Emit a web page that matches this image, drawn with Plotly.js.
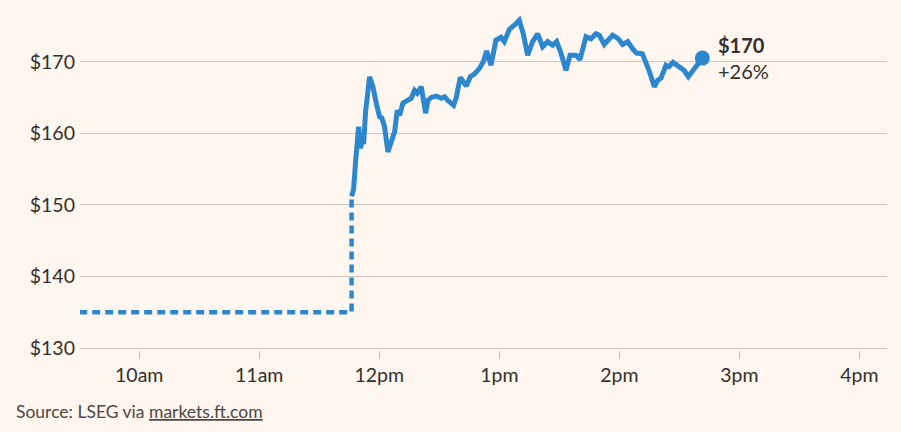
<!DOCTYPE html>
<html>
<head>
<meta charset="utf-8">
<script src="https://cdn.plot.ly/plotly-3.0.1.min.js"></script>
<style>
html,body{margin:0;padding:0;background:#FEF6EF;}
#chart{width:901px;height:432px;}
</style>
</head>
<body>
<div id="chart"></div>
<script>
// Previous close (dotted) series
const prevTimes = ["09:30:00", "11:46:10", "11:46:10"];
const prevPrices = [135, 135, 151.2];

// Intraday trading series
const times = [
  "11:46:10","11:47:10","11:48:10","11:49:40","11:50:40","11:51:20","11:52:10","11:53:10","11:55:10","11:56:50",
  "11:58:30","12:00:10","12:01:20","12:02:40","12:04:20","12:06:00","12:07:40","12:09:00","12:10:10","12:11:50",
  "12:14:20","12:16:00","12:17:40","12:19:00","12:21:00","12:23:10","12:24:20","12:26:00","12:28:30","12:31:00",
  "12:32:40","12:34:10","12:37:10","12:38:30","12:40:30","12:43:30","12:45:30","12:47:40","12:50:10","12:52:10",
  "12:53:40","12:55:50","12:58:20","13:00:50","13:02:30","13:05:00","13:07:30","13:10:00","13:12:00","13:14:10",
  "13:16:40","13:19:10","13:21:40","13:24:10","13:26:40","13:28:40","13:30:50","13:33:20","13:35:20","13:38:20",
  "13:40:20","13:43:20","13:45:50","13:48:20","13:50:00","13:52:30","13:56:40","13:59:10","14:01:40","14:04:10",
  "14:06:40","14:08:40","14:11:30","14:13:20","14:14:50","14:16:40","14:17:30","14:19:10","14:20:50","14:23:20",
  "14:24:50","14:26:50","14:29:50","14:32:20","14:34:30","14:36:30","14:39:00","14:41:30"
];
const prices = [
  151.2,152.2,156.0,160.9,157.9,159.2,158.5,163.0,167.9,166.5,
  164.2,162.3,162.1,160.9,157.4,159.0,160.2,163.2,162.5,164.2,
  164.6,164.9,166.0,165.6,166.5,162.8,164.6,165.0,165.2,164.9,
  165.1,164.6,163.9,165.0,167.8,166.6,167.9,168.3,169.1,170.1,
  171.5,169.5,173.0,173.4,172.8,174.5,175.1,175.8,173.9,170.9,
  172.8,173.9,172.1,172.8,172.3,172.8,171.2,168.8,170.9,170.9,
  170.3,173.5,173.2,173.9,173.7,172.4,173.7,173.3,172.4,172.8,
  171.8,171.2,171.1,169.9,168.8,167.2,166.5,167.4,167.7,169.5,
  169.3,169.9,169.2,168.8,167.9,168.6,169.7,170.5
];

const tickTimes = ["10:00","11:00","12:00","13:00","14:00","15:00","16:00"];
const tickLabels = ["10am","11am","12pm","1pm","2pm","3pm","4pm"];
const yTicks = [130, 140, 150, 160, 170];
const yTickLabels = ["$130", "$140", "$150", "$160", "$170"];
const lastLabel = "$170";
const changeLabel = "+26%";

const day = "2024-01-01 ";
const d = t => day + t;

const blue = "#2D87CE";
const ink = "#33302E";
const grid = "#CEC5BC";
const font = "Lato, 'Open Sans', sans-serif";

const lastX = d(times[times.length - 1]);
const lastY = prices[prices.length - 1];

const traces = [
  {
    x: prevTimes.map(d), y: prevPrices, mode: "lines", type: "scatter",
    line: {color: blue, width: 4.5, dash: "8px,5px"}, hoverinfo: "skip"
  },
  {
    x: times.map(d), y: prices, mode: "lines", type: "scatter",
    line: {color: blue, width: 5, shape: "linear"}, hoverinfo: "skip"
  },
  {
    x: [lastX], y: [lastY], mode: "markers", type: "scatter",
    marker: {color: blue, size: 15}, hoverinfo: "skip"
  }
];

const layout = {
  width: 901, height: 432,
  margin: {l: 80, r: 14, t: 8, b: 82},
  paper_bgcolor: "#FEF6EF", plot_bgcolor: "#FEF6EF",
  showlegend: false,
  font: {family: font, color: ink, size: 19},
  xaxis: {
    type: "date",
    range: [d("09:30:25"), d("16:13:48")],
    tickvals: tickTimes.map(d), ticktext: tickLabels,
    showgrid: false, zeroline: false, showline: false,
    ticks: "outside", ticklen: 8, tickwidth: 1, tickcolor: grid,
    ticklabelstandoff: 0,
    tickfont: {family: font, size: 19.5, color: ink}
  },
  yaxis: {
    range: [129.72, 177.5],
    tickmode: "array",
    tickvals: yTicks, ticktext: yTickLabels,
    showgrid: true, gridcolor: grid, gridwidth: 1,
    zeroline: false, showline: false, ticks: "",
    ticklabelstandoff: 4,
    tickfont: {family: font, size: 19.5, color: ink}
  },
  annotations: [
    {
      x: lastX, y: lastY, xref: "x", yref: "y",
      text: "<b>" + lastLabel + "</b>", showarrow: false,
      xanchor: "left", yanchor: "middle", xshift: 14, yshift: 13,
      font: {family: font, size: 20, color: ink}
    },
    {
      x: lastX, y: lastY, xref: "x", yref: "y",
      text: changeLabel, showarrow: false,
      xanchor: "left", yanchor: "middle", xshift: 14, yshift: -13,
      font: {family: font, size: 20, color: ink}
    },
    {
      x: 0, y: 0, xref: "paper", yref: "paper",
      text: 'Source: LSEG via <u>markets.ft.com</u>', showarrow: false,
      xanchor: "left", yanchor: "middle", xshift: -66, yshift: -61,
      font: {family: font, size: 17.5, color: "#4D4845"}
    }
  ]
};

Plotly.newPlot("chart", traces, layout, {displayModeBar: false, staticPlot: true});
</script>
</body>
</html>
